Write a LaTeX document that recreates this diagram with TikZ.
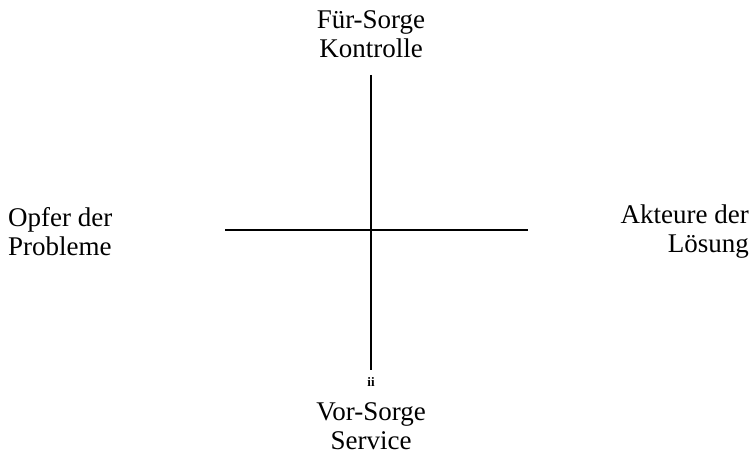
\documentclass[tikz,border=0pt]{standalone}
\usepackage{fontspec}
\setmainfont{Liberation Serif}
\usepackage{tikz}
\usetikzlibrary{positioning}

\begin{document}
\begin{tikzpicture}[x=1pt, y=-1pt,
    lbl/.style={align=center, inner sep=0pt, font=\fontsize{27}{29}\selectfont},
    axis/.style={line width=1.5pt}]
  \useasboundingbox (0,0) rectangle (751,462);
  \coordinate (c) at (371,230);
  \coordinate (top) at (371,75);
  \coordinate (bot) at (371,370);
  \coordinate (left) at (225,230);
  \coordinate (right) at (528,230);

  \node[lbl] (fuer) at (371,34) {Für-Sorge\\Kontrolle};
  \node[lbl] (vor) at (371,426) {Vor-Sorge\\Service};
  \node[lbl, align=left, anchor=west] (opfer) at (8,232) {Opfer der\\Probleme};
  \node[lbl, align=right, anchor=east] (akteure) at (749,232) {Akteure der\\Lösung};
  \node[inner sep=0pt, font=\fontsize{13}{15}\selectfont\bfseries] (ii) at (371,382) {ii};

  \draw[axis] (top) -- (bot);
  \draw[axis] (left) -- (right);
\end{tikzpicture}
\end{document}
